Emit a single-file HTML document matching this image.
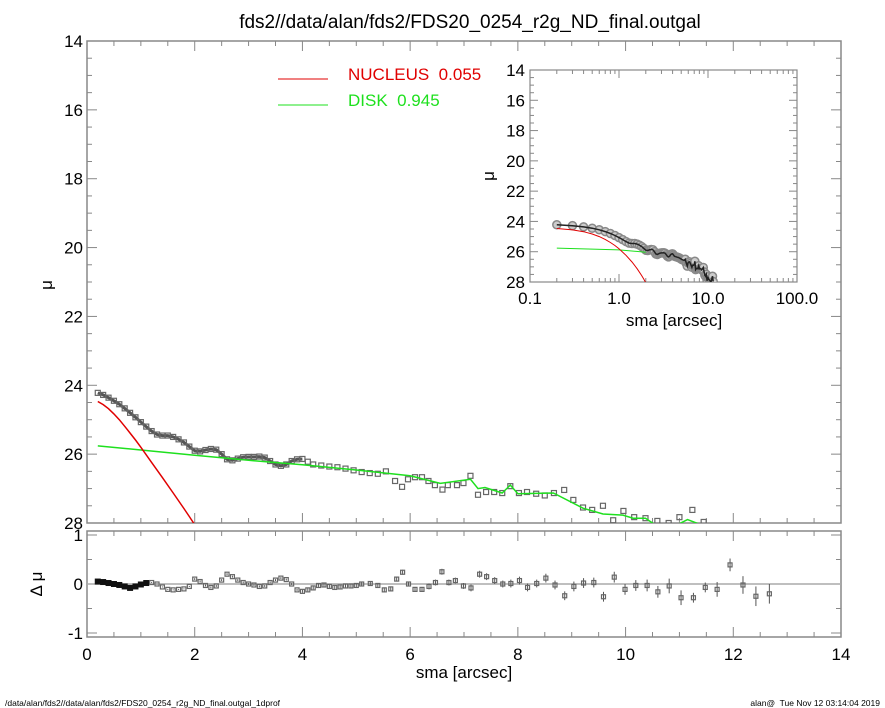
<!DOCTYPE html>
<html><head><meta charset="utf-8"><style>
body{margin:0;background:#fff;}
svg{display:block;font-family:"Liberation Sans",sans-serif;}
</style></head><body>
<svg id="c" width="885" height="708" viewBox="0 0 885 708" xmlns="http://www.w3.org/2000/svg">
<text x="470" y="28" font-size="19" text-anchor="middle">fds2//data/alan/fds2/FDS20_0254_r2g_ND_final.outgal</text>
<text x="5" y="706" font-size="8.5">/data/alan/fds2//data/alan/fds2/FDS20_0254_r2g_ND_final.outgal_1dprof</text>
<text x="880" y="706" font-size="8.5" text-anchor="end">alan@&#160; Tue Nov 12 03:14:04 2019</text>
<g id="g"></g>
</svg>
<script>
const obsX=[0.2,0.3,0.4,0.5,0.6,0.7,0.8,0.9,1.0,1.1,1.2,1.3,1.4,1.5,1.6,1.7,1.8,1.9,2.0,2.1,2.2,2.3,2.4,2.5,2.6,2.7,2.8,2.9,3.0,3.1,3.2,3.3,3.4,3.5,3.6,3.7,3.8,3.9,4.0,4.1,4.2,4.35,4.5,4.65,4.8,4.95,5.1,5.25,5.4,5.55,5.72,5.85,5.96,6.09,6.22,6.34,6.46,6.6,6.7,6.87,6.99,7.12,7.26,7.41,7.56,7.71,7.86,8.02,8.17,8.34,8.5,8.67,8.86,9.03,9.21,9.38,9.58,9.77,9.96,10.16,10.37,10.59,10.8,11.0,11.24,11.45];
const obsMu=[24.22,24.28,24.36,24.45,24.55,24.67,24.8,24.93,25.07,25.2,25.33,25.43,25.46,25.46,25.5,25.57,25.66,25.78,25.9,25.92,25.88,25.85,25.87,26.0,26.15,26.18,26.13,26.09,26.08,26.08,26.07,26.1,26.2,26.3,26.34,26.3,26.2,26.15,26.14,26.22,26.3,26.33,26.36,26.38,26.42,26.47,26.52,26.55,26.57,26.5,26.78,26.95,26.73,26.67,26.67,26.78,26.9,27.03,26.9,26.9,26.84,26.63,27.18,27.1,27.1,27.13,26.93,27.13,27.1,27.15,27.2,27.13,27.04,27.33,27.55,27.62,27.5,27.92,27.65,27.83,27.86,27.94,28.0,27.83,27.62,27.97];
const nucX=[0.2,0.3,0.4,0.5,0.6,0.7,0.8,0.9,1.0,1.2,1.4,1.6,1.8,1.9,2.0];
const nucMu=[24.47,24.56,24.68,24.83,25.0,25.19,25.39,25.59,25.8,26.24,26.68,27.13,27.58,27.81,28.05];
const diskX=[0.2,1,2,3,4,5,6,6.56,7.12,7.26,7.39,7.71,7.86,8.0,8.66,9.21,9.58,9.95,10.14,10.37,10.5,10.6,10.9,11.15,11.35];
const diskMu=[25.76,25.88,26.03,26.18,26.31,26.46,26.63,26.85,26.73,27.0,26.97,27.13,26.9,27.15,27.13,27.57,27.74,27.77,27.86,27.86,28.0,28.1,28.1,27.9,28.02];
const resX=[0.2,0.3,0.4,0.5,0.6,0.7,0.8,0.9,1.0,1.1,1.2,1.3,1.4,1.5,1.6,1.7,1.8,1.9,2.0,2.1,2.2,2.3,2.4,2.5,2.6,2.7,2.8,2.9,3.0,3.1,3.2,3.3,3.4,3.5,3.6,3.7,3.8,3.9,4.0,4.1,4.2,4.3,4.4,4.5,4.6,4.7,4.8,4.9,5.0,5.1,5.26,5.4,5.52,5.64,5.75,5.86,5.97,6.09,6.22,6.35,6.47,6.59,6.72,6.84,6.99,7.13,7.29,7.42,7.57,7.72,7.87,8.03,8.18,8.35,8.52,8.69,8.87,9.04,9.22,9.41,9.59,9.79,9.99,10.19,10.4,10.6,10.81,11.03,11.26,11.48,11.7,11.94,12.18,12.42,12.67];
const resV=[0.05,0.04,0.02,0.0,-0.02,-0.05,-0.08,-0.05,-0.01,0.02,0.03,0.0,-0.06,-0.11,-0.12,-0.11,-0.1,-0.05,0.1,0.05,-0.03,-0.07,-0.04,0.08,0.2,0.15,0.08,0.03,0.0,-0.02,-0.05,-0.04,0.03,0.08,0.12,0.09,0.0,-0.12,-0.15,-0.12,-0.08,-0.03,-0.02,-0.05,-0.07,-0.06,-0.04,-0.04,-0.03,0.0,0.01,-0.03,-0.12,-0.1,0.1,0.24,0.0,-0.11,-0.11,-0.05,0.03,0.25,0.03,0.07,-0.04,-0.08,0.2,0.15,0.07,0.0,0.01,0.07,-0.07,0.01,0.12,-0.02,-0.24,-0.05,0.02,0.03,-0.26,0.14,-0.11,-0.03,-0.03,-0.16,-0.04,-0.28,-0.28,-0.07,-0.11,0.39,-0.02,-0.25,-0.2];
const resErr=[0.01,0.01,0.01,0.01,0.01,0.01,0.01,0.01,0.01,0.01,0.01,0.01,0.01,0.01,0.01,0.01,0.01,0.01,0.02,0.02,0.02,0.02,0.02,0.02,0.02,0.02,0.02,0.02,0.02,0.02,0.02,0.02,0.02,0.02,0.02,0.02,0.02,0.02,0.03,0.03,0.03,0.03,0.03,0.03,0.03,0.03,0.03,0.03,0.04,0.04,0.04,0.04,0.05,0.05,0.05,0.05,0.05,0.05,0.05,0.06,0.06,0.06,0.06,0.06,0.06,0.07,0.07,0.07,0.07,0.07,0.08,0.08,0.08,0.08,0.09,0.09,0.09,0.1,0.1,0.1,0.1,0.11,0.11,0.11,0.12,0.12,0.15,0.15,0.1,0.1,0.15,0.13,0.18,0.2,0.2];
const xTicks=[0,2,4,6,8,10,12,14];
const yTicks=[14,16,18,20,22,24,26,28];
const rTicks=[1,0,-1];
const insXTicks=[0.1,1,10,100];
const insXLabels=["0.1","1.0","10.0","100.0"];

const NS="http://www.w3.org/2000/svg";
const G=document.getElementById('g');
function mk(t,a,p){const e=document.createElementNS(NS,t);for(const k in a)e.setAttribute(k,a[k]);(p||G).appendChild(e);return e;}
const X0=87,X1=841,Y0=41,Y1=523,R0=531,R1=637;
const sx=v=>X0+(v-0)/14*(X1-X0);
const sy=v=>Y0+(v-14)/14*(Y1-Y0);
const ry=v=>584-v*49;
const IX0=530,IX1=797,IY0=70,IY1=282;
const ix=v=>IX0+(Math.log10(v)+1)/3*(IX1-IX0);
const iy=v=>IY0+(v-14)/14*(IY1-IY0);
const AX='#888';
function ticksLine(x1,y1,x2,y2){return mk('line',{x1,y1,x2,y2,stroke:AX,'stroke-width':1});}

let f=mk('rect',{x:X0,y:Y0,width:X1-X0,height:Y1-Y0,fill:'none',stroke:AX,'stroke-width':1.5});

f=mk('rect',{x:X0,y:R0,width:X1-X0,height:R1-R0,fill:'none',stroke:AX,'stroke-width':1.5});


for(let v=0;v<=14.001;v+=0.5){
 const big=Math.abs(v%2)<1e-6, L=big?10:5, x=sx(v);
 ticksLine(x,Y1,x,Y1-L);ticksLine(x,Y0,x,Y0+L);ticksLine(x,R1,x,R1-L);ticksLine(x,R0,x,R0+L);
}
xTicks.forEach(v=>{const t=mk('text',{x:sx(v),y:660,'font-size':17,'text-anchor':'middle'});t.textContent=v;
});
for(let v=14;v<=28.001;v+=0.5){
 const big=Math.abs(v%2)<1e-6, L=big?10:5, y=sy(v);
 ticksLine(X0,y,X0+L,y);ticksLine(X1,y,X1-L,y);
}
yTicks.forEach(v=>{const t=mk('text',{x:X0-4,y:sy(v)+6,'font-size':17,'text-anchor':'end'});t.textContent=v;
});
for(let v=-1;v<=1.001;v+=0.5){const big=Math.abs(v%1)<1e-6,L=big?10:5,y=ry(v);ticksLine(X0,y,X0+L,y);ticksLine(X1,y,X1-L,y);}
rTicks.forEach(v=>{const t=mk('text',{x:X0-4,y:ry(v)+6,'font-size':17,'text-anchor':'end'});t.textContent=v;
});
let t=mk('text',{x:464,y:678,'font-size':17,'text-anchor':'middle'});t.textContent='sma [arcsec]';

t=mk('text',{x:0,y:0,'font-size':17,'text-anchor':'middle',transform:'translate(52,285) rotate(-90)'});t.textContent='μ';

t=mk('text',{x:0,y:0,'font-size':17,'text-anchor':'middle',transform:'translate(42,584) rotate(-90)'});t.textContent='Δ μ';


const defs=mk('defs',{});
const cp=mk('clipPath',{id:'cm'},defs);mk('rect',{x:X0,y:Y0,width:X1-X0,height:Y1-Y0},cp);
const cp2=mk('clipPath',{id:'ci'},defs);mk('rect',{x:IX0,y:IY0,width:IX1-IX0,height:IY1-IY0},cp2);
const cm=mk('g',{'clip-path':'url(#cm)'});
let d=obsX.filter(v=>v<=4).map((v,i)=>(i?'L':'M')+sx(v).toFixed(1)+','+sy(obsMu[i]).toFixed(1)).join('');
let p=mk('path',{d,fill:'none',stroke:'#555','stroke-width':3},cm);

obsX.forEach((v,i)=>{const r=mk('rect',{x:sx(v)-2.5,y:sy(obsMu[i])-2.5,width:5,height:5,fill:'none',stroke:'#666','stroke-width':1.2},cm);
});
d=diskX.map((v,i)=>(i?'L':'M')+sx(v).toFixed(1)+','+sy(diskMu[i]).toFixed(1)).join('');
p=mk('path',{d,fill:'none',stroke:'#1ee01e','stroke-width':1.5},cm);
d=nucX.map((v,i)=>(i?'L':'M')+sx(v).toFixed(1)+','+sy(nucMu[i]).toFixed(1)).join('');
p=mk('path',{d,fill:'none',stroke:'#e00000','stroke-width':1.5},cm);

let z=mk('line',{x1:X0,y1:ry(0),x2:X1,y2:ry(0),stroke:'#aaa','stroke-width':1.5});

resX.forEach((v,i)=>{const x=sx(v),y=ry(resV[i]),e=resErr[i]*49;
 const l=mk('line',{x1:x,y1:y-e,x2:x,y2:y+e,stroke:'#555','stroke-width':1});
 
 const dark=v<1.2;
 const r=mk('rect',{x:x-2,y:y-2,width:4,height:4,fill:dark?'#111':'none',stroke:dark?'#111':'#666','stroke-width':dark?2:1.2});
 });

let l=mk('line',{x1:278,y1:79,x2:328,y2:79,stroke:'#e00000','stroke-width':1});
t=mk('text',{x:348,y:80,'font-size':17,fill:'#e00000'});t.textContent='NUCLEUS\u00a0\u00a00.055';
l=mk('line',{x1:278,y1:105,x2:328,y2:105,stroke:'#1ee01e','stroke-width':1});
t=mk('text',{x:348,y:106,'font-size':17,fill:'#1ee01e'});t.textContent='DISK\u00a0\u00a00.945';

f=mk('rect',{x:IX0,y:IY0,width:IX1-IX0,height:IY1-IY0,fill:'#fff',stroke:AX,'stroke-width':1.2});

for(let dec=0.1;dec<100;dec*=10){for(let k=1;k<10;k++){const x=ix(dec*k),L=k==1?8:4;ticksLine(x,IY1,x,IY1-L);ticksLine(x,IY0,x,IY0+L);}}
insXTicks.forEach((v,i)=>{const t=mk('text',{x:ix(v),y:IY1+22,'font-size':17,'text-anchor':'middle'});t.textContent=insXLabels[i];
});
for(let v=14;v<=28.001;v+=0.5){const big=Math.abs(v%2)<1e-6,L=big?8:4,y=iy(v);ticksLine(IX0,y,IX0+L,y);ticksLine(IX1,y,IX1-L,y);}
yTicks.forEach(v=>{const t=mk('text',{x:IX0-5,y:iy(v)+6,'font-size':17,'text-anchor':'end'});t.textContent=v;
});
t=mk('text',{x:0,y:0,'font-size':17,'text-anchor':'middle',transform:'translate(494,176) rotate(-90)'});t.textContent='μ';

t=mk('text',{x:ix(1)+55,y:IY1+44,'font-size':17,'text-anchor':'middle'});t.textContent='sma [arcsec]';

const ci=mk('g',{'clip-path':'url(#ci)'});
obsX.forEach((v,i)=>{const c=mk('circle',{cx:ix(v),cy:iy(obsMu[i]),r:4,fill:'#ccc',stroke:'#888','stroke-width':1.5},ci);
});
d=obsX.map((v,i)=>(i?'L':'M')+ix(v).toFixed(1)+','+iy(obsMu[i]).toFixed(1)).join('');
p=mk('path',{d,fill:'none',stroke:'#222','stroke-width':1.5},ci);
d=diskX.filter(v=>v<=2).map((v,i)=>(i?'L':'M')+ix(v).toFixed(1)+','+iy(diskMu[i]).toFixed(1)).join('');
p=mk('path',{d,fill:'none',stroke:'#1ee01e','stroke-width':1},ci);
d=nucX.map((v,i)=>(i?'L':'M')+ix(v).toFixed(1)+','+iy(nucMu[i]).toFixed(1)).join('');
p=mk('path',{d,fill:'none',stroke:'#e00000','stroke-width':1},ci);
</script>
</body></html>
